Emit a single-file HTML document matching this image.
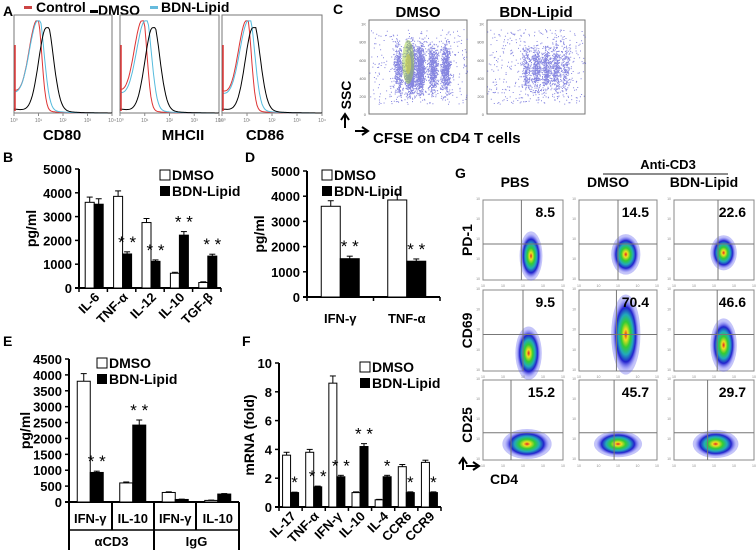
<!DOCTYPE html>
<html><head><meta charset="utf-8">
<style>
html,body{margin:0;padding:0;background:#fff;}
svg{display:block;font-family:"Liberation Sans",Arial,sans-serif;}
</style></head>
<body>
<svg id="fig" width="756" height="550" viewBox="0 0 756 550" xmlns="http://www.w3.org/2000/svg">
<defs>
<radialGradient id="dens" cx="50%" cy="50%" r="50%">
<stop offset="0" stop-color="#d22"/>
<stop offset="0.15" stop-color="#f0e020"/>
<stop offset="0.35" stop-color="#3c3"/>
<stop offset="0.55" stop-color="#2ab"/>
<stop offset="0.75" stop-color="#22c"/>
<stop offset="1" stop-color="#77f" stop-opacity="0"/>
</radialGradient>
</defs>
<g id="root"></g>
</svg>
<script>
// ---- data ----
const bCats = ["IL-6","TNF-α","IL-12","IL-10","TGF-β"];
const bDmso = [3600,3850,2750,620,230];
const bBdn = [3520,1430,1120,2220,1340];
const bDmsoErr = [220,230,170,40,30];
const bBdnErr = [230,90,60,150,80];
const bStars = ["","**","**","**","**"];
const bTicks = [0,1000,2000,3000,4000,5000];

const dCats = ["IFN-γ","TNF-α"];
const dDmso = [3600,3850];
const dBdn = [1520,1420];
const dDmsoErr = [220,230];
const dBdnErr = [100,90];
const dStars = ["**","**"];
const dTicks = [0,1000,2000,3000,4000,5000];

const eCats = ["IFN-γ","IL-10","IFN-γ","IL-10"];
const eGroups = ["αCD3","IgG"];
const eDmso = [3800,600,300,50];
const eBdn = [930,2420,80,250];
const eDmsoErr = [240,30,20,10];
const eBdnErr = [40,160,10,15];
const eStars = ["**","**","",""];
const eTicks = [0,500,1000,1500,2000,2500,3000,3500,4000,4500];

const fCats = ["IL-17","TNF-α","IFN-γ","IL-10","IL-4","CCR6","CCR9"];
const fDmso = [3.6,3.8,8.6,1.0,0.5,2.8,3.1];
const fBdn = [1.0,1.4,2.1,4.2,2.1,1.0,1.0];
const fDmsoErr = [0.2,0.2,0.5,0.05,0.03,0.15,0.15];
const fBdnErr = [0.03,0.05,0.1,0.2,0.1,0.05,0.05];
const fStars = ["*","**","**","**","*","*","*"];
const fTicks = [0,2,4,6,8,10];

const gValues = [[8.5,14.5,22.6],[9.5,70.4,46.6],[15.2,45.7,29.7]];
const gCols = ["PBS","DMSO","BDN-Lipid"];
const gRows = ["PD-1","CD69","CD25"];

const histPanels = ["CD80","MHCII","CD86"];
// peak positions (fraction of log axis) for control, DMSO, BDN-Lipid
const histCtrl = [0.24,0.23,0.25];
const histDmso = [0.33,0.33,0.31];
const histBdn = [0.25,0.26,0.27];

// ---- helpers ----
const NS="http://www.w3.org/2000/svg";
const root=document.getElementById('root');
function mk(tag,attrs,parent,text){
  const e=document.createElementNS(NS,tag);
  for(const k in attrs) e.setAttribute(k,attrs[k]);
  if(text!==undefined) e.textContent=text;
  (parent||root).appendChild(e);
  return e;
}
function txt(x,y,s,size,parent,anchor,extra){
  return mk('text',Object.assign({x:x,y:y,'font-size':size,'font-weight':'bold','text-anchor':anchor||'start'},extra||{}),parent,s);
}
function panelLetter(x,y,s){
  const t=txt(x,y,s,14);
  
  
}

function barChart(o){
  const g=mk('g',{});
  
  
  const ymax=o.ticks[o.ticks.length-1];
  const y=v=>o.y0-(v/ymax)*(o.y0-o.y1);
  const n=o.cats.length;
  const cw=(o.x1-o.x0)/n;
  const ax=mk('line',{x1:o.x0,y1:o.y1,x2:o.x0,y2:o.y0,stroke:'#000','stroke-width':2},g);
  
  
  const bx=mk('line',{x1:o.x0-4,y1:o.y0,x2:o.x1,y2:o.y0,stroke:'#000','stroke-width':2},g);
  
  
  o.ticks.forEach(t=>{
    mk('line',{x1:o.x0-4,y1:y(t),x2:o.x0,y2:y(t),stroke:'#000','stroke-width':1.5},g);
    const tl=txt(o.x0-7,y(t)+5,String(t),o.tickSize||13,g,'end');
    
    
  });
  for(let i=0;i<=n;i++){
    if(o.xticks!==false) mk('line',{x1:o.x0+i*cw,y1:o.y0,x2:o.x0+i*cw,y2:o.y0+4,stroke:'#000','stroke-width':1.5},g);
  }
  o.cats.forEach((c,i)=>{
    const cx=o.x0+cw*(i+0.5)+(o.shift||0);
    const bw=o.bw;
    const vals=[o.dmso[i],o.bdn[i]], errs=[o.dErr[i],o.bErr[i]];
    vals.forEach((v,k)=>{
      const x=k===0?cx-bw:cx;
      const top=y(v+errs[k]);
      mk('line',{x1:x+bw/2,y1:y(v),x2:x+bw/2,y2:top,stroke:'#000','stroke-width':1},g);
      mk('line',{x1:x+bw/2-3,y1:top,x2:x+bw/2+3,y2:top,stroke:'#000','stroke-width':1},g);
      const r=mk('rect',{x:x,y:y(v),width:bw,height:Math.max(0.5,o.y0-y(v)),fill:k===0?'#fff':'#000',stroke:'#000','stroke-width':1},g);
      
      
    });
    if(o.stars[i]){
      const s=txt(cx+bw/2,y(o.bdn[i]+o.bErr[i])-4,o.stars[i].split('').join(' '),o.starSize||17,g,'middle',{'font-weight':'normal'});
      
      
    }
    if(o.rot){
      const lt=txt(0,0,c,13,g,'end',{transform:`translate(${cx+6},${o.y0+10}) rotate(-45)`});
      
      
    } else if(o.flat){
      const lt=txt(cx,o.flatY,c,13,g,'middle');
      
      
    }
  });
  const yl=txt(0,0,o.ylabel,14,g,'middle',{transform:`translate(${o.ylx},${(o.y0+o.y1)/2}) rotate(-90)`});
  
  
  const lg=mk('g',{},g);
  
  
  mk('rect',{x:o.lx,y:o.ly-10,width:10,height:10,fill:'#fff',stroke:'#000','stroke-width':1},lg);
  txt(o.lx+12,o.ly,'DMSO',14,lg);
  mk('rect',{x:o.lx,y:o.ly+6,width:10,height:10,fill:'#000'},lg);
  txt(o.lx+12,o.ly+16,'BDN-Lipid',14,lg);
  return {g,y,cw};
}

// ===== Panel A =====
panelLetter(3,16,'A');
const legA=mk('g',{});


mk('rect',{x:24,y:6,width:8,height:3,fill:'#c44'},legA);
txt(36,12,'Control',14,legA);
mk('rect',{x:90,y:10,width:8,height:3,fill:'#000'},legA);
txt(98,15,'DMSO',14,legA);
mk('rect',{x:150,y:6,width:8,height:3,fill:'#6bd'},legA);
txt(161,12,'BDN-Lipid',14,legA);

const histBoxes=[[14,112],[120,219],[222,322]];
function histPath(x0,x1,y0,y1,peak,wL,wR,base,tail){
  const W=x1-x0,H=y0-y1;let d='';
  for(let i=0;i<=80;i++){
    const f=i/80;const w=f<peak?wL:wR;
    let v=Math.exp(-Math.pow((f-peak)/w,2))*0.97;
    if(f<peak) v+=base*(1-f/peak)*0.9; 
    if(f>peak) v+=tail*Math.exp(-(f-peak)/0.12);
    const px=x0+f*W, py=y0-Math.min(0.97,v)*H;
    d+=(i?'L':'M')+px.toFixed(1)+','+py.toFixed(1);
  }
  return d;
}
histPanels.forEach((name,i)=>{
  const [x0,x1]=histBoxes[i];const yb=113,yt=15;
  const g=mk('g',{});
  
  
  mk('rect',{x:x0,y:yt,width:x1-x0,height:yb-yt,fill:'#fff',stroke:'#777','stroke-width':1},g);
  mk('path',{d:histPath(x0,x1,yb,yt+3,histCtrl[i],0.12,0.06,0.25,0.05),fill:'none',stroke:'#d33','stroke-width':1},g);
  mk('path',{d:histPath(x0,x1,yb,yt+3,histBdn[i],0.13,0.08,0.22,0.08),fill:'none',stroke:'#5bd','stroke-width':1},g);
  mk('path',{d:histPath(x0,x1,yb,yt+10,histDmso[i],0.11,0.1,0.05,0.1),fill:'none',stroke:'#000','stroke-width':1},g);
  mk('line',{x1:x0+1,y1:yb-2,x2:x0+1,y2:yt+30,stroke:'#d33','stroke-width':1.5},g);
  for(let k=0;k<=4;k++){
    const tx=x0+k*(x1-x0)/4;
    mk('line',{x1:tx,y1:yb,x2:tx,y2:yb+3,stroke:'#888'},g);
    txt(tx,yb+9,'10'+['⁰','¹','²','³','⁴'][k],5,g,'middle',{'font-weight':'normal',fill:'#777'});
  }
  const lab=txt([62,183,265][i],140,name,15,g,'middle');
  
  
});

// ===== Panel C =====
panelLetter(333,14,'C');
let seed=7;function rnd(){seed=(seed*16807)%2147483647;return seed/2147483647;}
function gauss(){return (rnd()+rnd()+rnd()-1.5)/1.5;}
const cBoxes=[[369,467,'DMSO',418],[487,585,'BDN-Lipid',536]];
cBoxes.forEach((b,bi)=>{
  const g=mk('g',{});
  
  
  const [x0,x1]=b;const yt=20,yb=114;
  mk('rect',{x:x0,y:yt,width:x1-x0,height:yb-yt,fill:'#fff',stroke:'#777','stroke-width':1},g);
  const cols=bi?[[0.4,0.3],[0.5,0.45],[0.6,0.45],[0.7,0.4],[0.8,0.25]]:[[0.42,0.9],[0.52,0.6],[0.65,0.4],[0.78,0.45],[0.3,0.3]];
  let pts='';
  cols.forEach(([cx,wgt])=>{
    const N=Math.round(wgt*(bi?700:1300));
    for(let k=0;k<N;k++){
      const px=x0+(cx+gauss()*0.07)*(x1-x0);
      const py=yb-(0.48+gauss()*0.38)*(yb-yt);
      if(px>x0&&px<x1&&py>yt&&py<yb) pts+=`M${px.toFixed(1)},${py.toFixed(1)}h1`;
    }
  });
  for(let k=0;k<(bi?400:350);k++){
    const px=x0+rnd()*(x1-x0), py=yt+(0.1+rnd()*0.8)*(yb-yt);
    pts+=`M${px.toFixed(1)},${py.toFixed(1)}h1`;
  }
  mk('path',{d:pts,stroke:'#33c','stroke-width':1,'stroke-opacity':0.6,fill:'none'},g);
  if(!bi){
    mk('ellipse',{cx:x0+0.4*(x1-x0),cy:62,rx:6,ry:22,fill:'#9c3','opacity':0.45},g);
    mk('ellipse',{cx:x0+0.4*(x1-x0),cy:64,rx:3,ry:10,fill:'#dd4','opacity':0.5},g);
  }
  const t=txt(b[3],17,b[2],15,g,'middle');
  
  
  ['0','200','400','600','800','1K'].forEach((l,k)=>txt(x0-3,yb-k*(yb-yt)/5.2+2,l,4,g,'end',{'font-weight':'normal',fill:'#666'}));
});
const ssc=txt(0,0,'SSC',14,root,'middle',{transform:'translate(351,95) rotate(-90)'});

mk('path',{d:'M345,128 V116 M341,120 L345,114 L349,120',stroke:'#000','stroke-width':2,fill:'none'});
mk('path',{d:'M355,131 H367 M362,127 L368,131 L362,135',stroke:'#000','stroke-width':2,fill:'none'});
const cfse=txt(373,143,'CFSE on CD4 T cells',15);


// ===== Panel B =====
panelLetter(3,162,'B');
barChart({name:'chart-b-cytokines',cats:bCats,dmso:bDmso,bdn:bBdn,dErr:bDmsoErr,bErr:bBdnErr,stars:bStars,ticks:bTicks,
  x0:79,x1:221,y0:288,y1:169,bw:9,shift:1,rot:true,ylabel:'pg/ml',ylx:36,lx:160,ly:180});

// ===== Panel D =====
panelLetter(245,162,'D');
barChart({name:'chart-d-cytokines',cats:dCats,dmso:dDmso,bdn:dBdn,dErr:dDmsoErr,bErr:dBdnErr,stars:dStars,ticks:dTicks,
  x0:307,x1:440,y0:297,y1:171,bw:19,flat:true,flatY:323,ylabel:'pg/ml',ylx:264,lx:322,ly:180});

// ===== Panel E =====
panelLetter(3,346,'E');
barChart({name:'chart-e-cytokines',cats:eCats,dmso:eDmso,bdn:eBdn,dErr:eDmsoErr,bErr:eBdnErr,stars:eStars,ticks:eTicks,
  x0:69,x1:239,y0:502,y1:359,bw:13,xticks:false,flat:true,flatY:523,ylabel:'pg/ml',ylx:30,lx:97,ly:368,tickSize:13});
[69,112,154,196,239].forEach(x=>mk('line',{x1:x,y1:502,x2:x,y2:530,stroke:'#000','stroke-width':2}));
[69,154,239].forEach(x=>mk('line',{x1:x,y1:530,x2:x,y2:550,stroke:'#000','stroke-width':2}));
mk('line',{x1:69,y1:530,x2:239,y2:530,stroke:'#000','stroke-width':1.5});
eGroups.forEach((gname,i)=>{
  const t=txt(69+42.5+i*85,546,gname,13,root,'middle');
  
});

// ===== Panel F =====
panelLetter(242,346,'F');
barChart({name:'chart-f-mrna',cats:fCats,dmso:fDmso,bdn:fBdn,dErr:fDmsoErr,bErr:fBdnErr,stars:fStars,ticks:fTicks,
  x0:279,x1:441,y0:507,y1:363,bw:8,rot:true,ylabel:'mRNA (fold)',ylx:254,lx:360,ly:372,starSize:17});

// ===== Panel G =====
panelLetter(455,178,'G');
const gColX=[[483,563],[579,657],[674,754]];
const gRowY=[[200,280],[290,371],[380,460]];
const gVx=[[0.48,0.5,0.55],[0.5,0.48,0.54],[0.35,0.45,0.42]];
const gHy=[0.55,0.55,0.66];
// blob: cx, cy, rx, ry (fractions)
const gBlob=[[[0.6,0.7,0.13,0.28],[0.6,0.68,0.17,0.23],[0.62,0.66,0.15,0.2]],
             [[0.57,0.78,0.15,0.3],[0.6,0.55,0.17,0.45],[0.62,0.68,0.15,0.3]],
             [[0.55,0.8,0.28,0.17],[0.5,0.8,0.28,0.15],[0.52,0.8,0.26,0.16]]];
gCols.forEach((c,ci)=>{
  const t=txt(gColX[ci][0]+(gColX[ci][1]-gColX[ci][0])/2+(ci===0?-8:-10),187,c,14,root,'middle');
  
});
const ac=txt(668,169,'Anti-CD3',13,root,'middle');

mk('line',{x1:603,y1:174,x2:728,y2:174,stroke:'#666','stroke-width':1.5});
gRows.forEach((r,ri)=>{
  const [y0,y1]=gRowY[ri];
  const t=txt(0,0,r,14,root,'middle',{transform:`translate(472,${ri===2?y0+45:(y0+y1)/2}) rotate(-90)`});
  
  gCols.forEach((c,ci)=>{
    const [x0,x1]=gColX[ci];const W=x1-x0,H=y1-y0;
    const g=mk('g',{});
    
    
    mk('rect',{x:x0,y:y0,width:W,height:H,fill:'#fff',stroke:'#888','stroke-width':1},g);
    const [bx,by,rx,ry]=gBlob[ri][ci];
    mk('ellipse',{cx:x0+bx*W,cy:y0+by*H,rx:rx*W*1.1,ry:ry*H*1.1,fill:'#55e',opacity:0.35},g);
    mk('ellipse',{cx:x0+bx*W,cy:y0+by*H,rx:rx*W,ry:ry*H,fill:'url(#dens)'},g);
    mk('line',{x1:x0+gVx[ri][ci]*W,y1:y0,x2:x0+gVx[ri][ci]*W,y2:y1,stroke:'#777','stroke-width':1},g);
    mk('line',{x1:x0,y1:y0+gHy[ri]*H,x2:x1,y2:y0+gHy[ri]*H,stroke:'#777','stroke-width':1},g);
    const v=txt(x1-8,y0+17,gValues[ri][ci].toFixed(1),14,g,'end');
    
    for(let k=0;k<=4;k++){
      txt(x0+k*W/4,y1+7,'10',3.5,g,'middle',{'font-weight':'normal',fill:'#888'});
      txt(x0-3,y1-k*H/4,'10',3.5,g,'end',{'font-weight':'normal',fill:'#888'});
    }
  });
});
mk('path',{d:'M463,470 V460 M459,464 L463,458 L467,464',stroke:'#000','stroke-width':2,fill:'none'});
mk('path',{d:'M466,466 H478 M473,462 L479,466 L473,470',stroke:'#000','stroke-width':2,fill:'none'});
const cd4=txt(490,484,'CD4',14);

</script>
</body></html>
